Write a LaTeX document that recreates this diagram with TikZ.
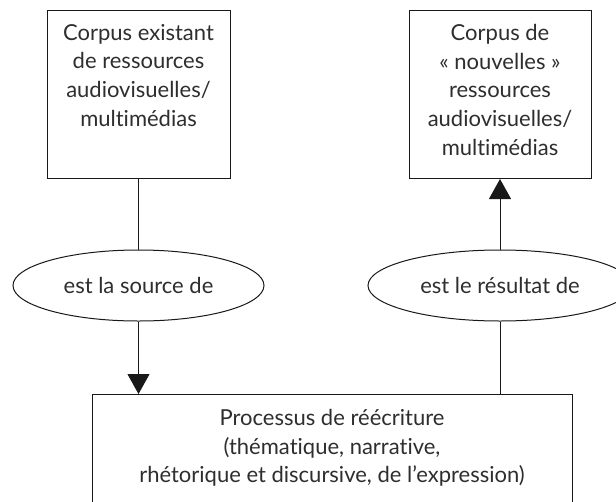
\documentclass[tikz,border=0pt]{standalone}
\usepackage{fontspec}
\setmainfont{Lato}[Ligatures=CommonOff]
\usetikzlibrary{arrows.meta,shapes.geometric}
\begin{document}
\begin{tikzpicture}[x=1pt,y=-1pt,
  box/.style={draw=black!90, line width=1pt, minimum width=#1, inner sep=0pt, anchor=north},
  lbl/.style={text=black!82, font=\fontsize{22}{28.7}\selectfont, align=center, inner sep=0pt, anchor=north},
  ell/.style={draw=black!90, line width=1pt, ellipse, minimum width=#1, minimum height=71pt, inner sep=0pt, text=black!82, font=\fontsize{22}{28.7}\selectfont},
  conn/.style={draw=black!90, line width=1pt},
  tip/.style={-{Triangle[length=20pt,width=22pt]}}]
\useasboundingbox (0,0) rectangle (616,501);
\clip (0,0) rectangle (616,501);
% top boxes
\node[box=183pt, minimum height=168pt] (lbox) at (138.5,10) {};
\node[lbl] (ltext) at (138.5,24) {Corpus existant\\de ressources\\audiovisuelles/\\multimédias};
\node[box=182pt, minimum height=168pt] (rbox) at (500,10) {};
\node[lbl] (rtext) at (500,24) {Corpus de\\«~nouvelles~»\\ressources\\audiovisuelles/\\multimédias};
% ellipses
\node[ell=251pt] (lell) at (138.5,285.5) {est la source de};
\node[ell=264pt] (rell) at (500,285.5) {est le résultat de};
% bottom box
\node[box=480pt, minimum height=140pt] (bot) at (332,394) {};
\node[lbl] (btext) at (332,409) {Processus de réécriture\\(thématique, narrative,\\rhétorique et discursive, de l’expression)};
% connectors
\draw[conn] (lbox.south) -- (lell.north);
\draw[conn, tip] (lell.south) -- (lell.south |- bot.north);
\draw[conn] (rell.south) -- (rell.south |- bot.north);
\draw[conn, tip] (rell.north) -- (rbox.south);
\end{tikzpicture}
\end{document}
